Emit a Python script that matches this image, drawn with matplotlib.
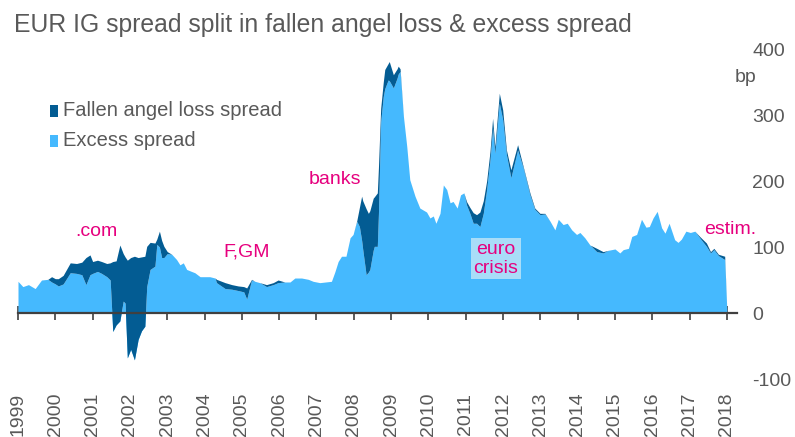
import matplotlib
matplotlib.use("Agg")
import matplotlib.pyplot as plt
from matplotlib.patches import Rectangle

# ---- data ----
dates = [1999.00, 1999.13, 1999.28, 1999.46, 1999.63, 1999.80, 1999.90, 2000.00, 2000.08, 2000.21,
         2000.30, 2000.40, 2000.57, 2000.71, 2000.82, 2000.93, 2001.00, 2001.13, 2001.24, 2001.38,
         2001.47, 2001.54, 2001.63, 2001.73, 2001.82, 2001.87, 2001.93, 2002.02, 2002.12, 2002.22,
         2002.31, 2002.40, 2002.45, 2002.54, 2002.67, 2002.72, 2002.79, 2002.85, 2002.91, 2003.00,
         2003.12, 2003.25, 2003.34, 2003.43, 2003.52, 2003.65, 2003.74, 2003.88, 2004.14, 2004.28,
         2004.32, 2004.55, 2004.73, 2004.90, 2005.05, 2005.13, 2005.26, 2005.35, 2005.48, 2005.66,
         2005.84, 2005.97, 2006.15, 2006.29, 2006.42, 2006.60, 2006.78, 2006.91, 2007.09, 2007.40,
         2007.49, 2007.58, 2007.67, 2007.79, 2007.90, 2007.98, 2008.08, 2008.15, 2008.21, 2008.24,
         2008.33, 2008.39, 2008.43, 2008.52, 2008.55, 2008.63, 2008.66, 2008.72, 2008.79, 2008.83,
         2008.92, 2008.95, 2009.06, 2009.16, 2009.19, 2009.24, 2009.33, 2009.42, 2009.50, 2009.64,
         2009.77, 2009.95, 2010.04, 2010.13, 2010.20, 2010.31, 2010.40, 2010.49, 2010.58, 2010.66,
         2010.77, 2010.86, 2010.95, 2011.02, 2011.11, 2011.20, 2011.29, 2011.38, 2011.47, 2011.56,
         2011.65, 2011.72, 2011.78, 2011.90, 2011.99, 2012.09, 2012.21, 2012.39, 2012.54, 2012.72,
         2012.85, 2012.99, 2013.12, 2013.26, 2013.39, 2013.48, 2013.61, 2013.72, 2013.84, 2013.97,
         2014.06, 2014.19, 2014.33, 2014.51, 2014.68, 2014.82, 2015.00, 2015.13, 2015.22, 2015.36,
         2015.45, 2015.58, 2015.71, 2015.83, 2015.92, 2016.02, 2016.13, 2016.25, 2016.34, 2016.45,
         2016.60, 2016.69, 2016.78, 2016.90, 2017.02, 2017.14, 2017.27, 2017.45, 2017.56, 2017.65,
         2017.77, 2017.94, 2018.00]

total_spread = [48, 40, 43, 37, 50, 51, 55, 52, 52, 57,
                66, 76, 75, 77, 84, 88, 78, 80, 78, 75,
                76, 78, 79, 103, 90, 85, 80, 84, 86, 84,
                85, 86, 101, 107, 106, 112, 124, 110, 101, 93,
                89, 81, 73, 76, 66, 63, 61, 55, 55, 53,
                51, 46, 43, 41, 40, 38, 51, 48, 46, 43,
                46, 50, 47, 47, 53, 53, 51, 48, 46, 48,
                62, 78, 86, 86, 114, 119, 140, 160, 177, 170,
                158, 151, 155, 174, 176, 182, 220, 310, 350, 369,
                378, 381, 361, 370, 374, 370, 298, 252, 202, 177,
                159, 153, 144, 147, 136, 151, 194, 187, 167, 169,
                159, 179, 182, 169, 160, 152, 149, 153, 170, 200,
                245, 295, 252, 333, 308, 247, 217, 255, 222, 182,
                159, 151, 151, 139, 126, 142, 134, 136, 126, 119,
                122, 114, 103, 98, 93, 95, 97, 91, 96, 98,
                116, 119, 142, 130, 131, 144, 154, 129, 121, 136,
                111, 107, 112, 124, 122, 124, 116, 106, 93, 98,
                89, 86, 0]

excess_spread = [48, 40, 43, 37, 50, 51, 47, 44, 41, 44,
                 52, 61, 60, 58, 43, 58, 60, 63, 60, 55,
                 50, -28, -18, -12, 18, 15, -68, -55, -71, -40,
                 -27, -20, 40, 66, 71, 104, 100, 84, 84, 90,
                 89, 81, 73, 76, 66, 63, 61, 55, 55, 53,
                 46, 37, 36, 34, 32, 21, 50, 48, 46, 40,
                 43, 46, 47, 47, 53, 53, 51, 48, 46, 48,
                 62, 78, 86, 86, 114, 119, 139, 131, 110, 96,
                 58, 62, 66, 95, 101, 101, 150, 290, 328, 340,
                 353, 352, 341, 356, 362, 366, 298, 252, 202, 177,
                 159, 153, 144, 147, 136, 151, 194, 187, 167, 169,
                 159, 179, 182, 164, 151, 136, 136, 131, 151, 187,
                 232, 280, 242, 318, 293, 240, 205, 247, 220, 179,
                 157, 149, 150, 139, 126, 142, 134, 136, 126, 119,
                 122, 114, 103, 93, 91, 95, 97, 91, 96, 98,
                 116, 119, 142, 130, 131, 144, 154, 129, 121, 136,
                 111, 107, 112, 124, 122, 124, 114, 101, 91, 96,
                 87, 81, 0]

years = list(range(1999, 2019))
y_ticks = [-100, 0, 100, 200, 300, 400]
series_labels = ["Fallen angel loss spread", "Excess spread"]
annotations = [(".com", 2001.09, 123), ("F,GM", 2005.14, 93), ("banks", 2007.49, 202),
               ("estim.", 2018.1, 126)]

# ---- style ----
DARK = "#035C93"
LIGHT = "#45B9FE"
MAG = "#E6007E"
GRAY = "#595959"
FONT = "Liberation Sans"
plt.rcParams["font.family"] = [FONT, "DejaVu Sans"]

W, H = 795, 437
fig = plt.figure(figsize=(W / 100, H / 100), dpi=100)
ax = fig.add_axes([18 / W, 1 - 379 / H, (737 - 18) / W, (379 - 49) / H])

ax.fill_between(dates, 0, excess_spread, color=LIGHT, lw=0, zorder=2)
ax.fill_between(dates, excess_spread, total_spread, color=DARK, lw=0, zorder=3)

ax.set_xlim(1999, 2018.27)
ax.set_ylim(-100, 400)

for s in ["top", "left", "right"]:
    ax.spines[s].set_visible(False)
ax.spines["bottom"].set_position(("data", 0))
ax.spines["bottom"].set_color("#404040")
ax.spines["bottom"].set_linewidth(1.6)
ax.spines["bottom"].set_zorder(5)
ax.set_xticks(years)
ax.tick_params(axis="x", direction="inout", length=10, width=1.2, color="#404040",
               labelbottom=False)
ax.yaxis.tick_right()
ax.set_yticks(y_ticks)
ax.set_yticklabels([str(v) for v in y_ticks])
ax.tick_params(axis="y", length=0, pad=11, labelsize=14, labelcolor=GRAY)

for yr in years:
    ax.text(yr, -121, str(yr), rotation=90, ha="center", va="top", fontsize=14,
            color=GRAY, clip_on=False)

for txt, xx, yy in annotations:
    ax.text(xx, yy, txt, ha="center", va="center", fontsize=14, color=MAG, zorder=6)
ax.text(2011.81, 82, "euro\ncrisis", ha="center", va="center", fontsize=14, color=MAG,
        linespacing=1.1, zorder=6,
        bbox=dict(boxstyle="square,pad=0.15", facecolor="#A9DDF8", edgecolor="none"))

fig.text(14 / W, 1 - 25 / H, "EUR IG spread split in fallen angel loss & excess spread",
         ha="left", va="center", fontsize=17.8, color=GRAY)
fig.text(735 / W, 1 - 78 / H, "bp", ha="left", va="center", fontsize=14, color=GRAY)

# legend
for i, (lab, col) in enumerate(zip(series_labels, [DARK, LIGHT])):
    yc = 111 + 30 * i
    fig.add_artist(Rectangle((50 / W, 1 - (yc + 6) / H), 8 / W, 12 / H,
                             transform=fig.transFigure, color=col, lw=0))
    fig.text(63 / W, 1 - yc / H, lab, ha="left", va="center", fontsize=14.5, color=GRAY)

fig.savefig("out.png", dpi=100)
